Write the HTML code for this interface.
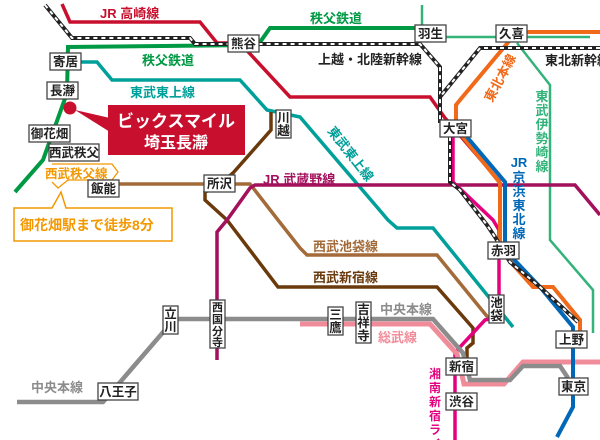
<!DOCTYPE html>
<html><head><meta charset="utf-8"><style>
html,body{margin:0;padding:0;background:#fff;}
svg{display:block;font-family:"Liberation Sans","Noto Sans CJK JP",sans-serif;}
.st{fill:#fff;stroke:#444;stroke-width:1.3;}
.sl{font-size:12.5px;font-weight:bold;fill:#222;}
</style></head><body>
<svg width="600" height="440" viewBox="0 0 600 440" xmlns="http://www.w3.org/2000/svg">
<g fill="none" stroke-linejoin="miter">
<!-- Tobu Isesaki light green -->
<polyline points="422,5 422,37 590,37" stroke="#33b37a" stroke-width="2.5"/>
<polyline points="517,43 550,85 550,240 593,290 593,333" stroke="#33b37a" stroke-width="2.5"/>
<!-- Chichibu green -->
<polyline points="15,192 43,160 67,93 68,47 258,45 270,28 422,28" stroke="#009944" stroke-width="4"/>
<!-- Takasaki red -->
<polyline points="62,4 70,22 200,22 217,43 240,43 290,97 430,97 445,118 500,182" stroke="#c8102e" stroke-width="3.5"/>
<!-- Tojo teal -->
<polyline points="80,62 97,62 112,80 240,80 267,110 300,117 388,220 397,228 433,228 513,327" stroke="#00a09a" stroke-width="3.5"/>
<!-- Seibu Ikebukuro light brown -->
<polyline points="117,184 250,184 278,220 300,248 307,255 437,255 490,320" stroke="#a36b3a" stroke-width="3.5"/>
<!-- Seibu Shinjuku dark brown -->
<polyline points="271,112 271,130 233,173 218,186 205,192 205,200 227,220 278,287 437,287 473,328 473,343 467,348 467,360" stroke="#6a3a0c" stroke-width="3.5"/>
<!-- Musashino purple -->
<polyline points="217,360 217,232 227,220 250,188 255,185 575,185 600,215" stroke="#a3115c" stroke-width="3.5"/>
<!-- Saikyo/Shonan magenta -->
<polyline points="453,137 453,182 493,220 499,230 499,317 485,320 460,347 455,353 455,440" stroke="#e4007f" stroke-width="3.5"/>
<!-- Sobu pink -->
<polyline points="300,324 430,324 457,354 464,384 504,384 523,362 600,362" stroke="#f08c9a" stroke-width="5"/>
<!-- Chuo grey -->
<polyline points="17,402 103,402 165,330 178,319 433,319 463,353 470,380 510,380 523,366 560,366 568,378" stroke="#8c8c8c" stroke-width="4.5"/>
<!-- Orange Tohoku main -->
<polyline points="600,32 527,32" stroke="#f06a1a" stroke-width="4"/>
<polyline points="510,40 460,100 456,105 456,125 463,137 500,183 500,250 533,287 553,287 580,320 580,333" stroke="#f06a1a" stroke-width="4"/>
<!-- Blue Keihin -->
<polyline points="467,137 505,182 505,250 540,287 573,327 573,407 557,437" stroke="#0068b7" stroke-width="4"/>
<!-- Shinkansen -->
<g stroke-width="4">
<polyline points="45,5 72,38 190,38 195,44 420,44 440,67 440,123" stroke="#222"/>
<polyline points="45,5 72,38 190,38 195,44 420,44 440,67 440,123" stroke="#fff" stroke-dasharray="4 4" stroke-width="2"/>
<polyline points="600,48 480,48 440,97" stroke="#222"/>
<polyline points="600,48 480,48 440,97" stroke="#fff" stroke-dasharray="4 4" stroke-width="2"/>
<polyline points="450,137 450,182 460,190 487,225 495,237 510,262 540,287 578,322" stroke="#222"/>
<polyline points="450,137 450,182 460,190 487,225 495,237 510,262 540,287 578,322" stroke="#fff" stroke-dasharray="4 4" stroke-width="2"/>
</g>
</g>

<!-- Callouts -->
<circle cx="70" cy="108" r="6.5" fill="#c8102e"/>
<polygon points="75,110 110,118 110,132" fill="#c8102e"/>
<rect x="108" y="105" width="137" height="50" fill="#c8102e"/>
<text x="176" y="127" font-size="17" font-weight="bold" fill="#fff" text-anchor="middle">ビックスマイル</text>
<text x="176" y="148" font-size="16" font-weight="bold" fill="#fff" text-anchor="middle">埼玉長瀞</text>

<polyline points="52,164 112,164 118,172 112,180 68,180 58,188 52,182" fill="none" stroke="#f39800" stroke-width="1.3"/>
<text x="45" y="178" font-size="12.5" font-weight="bold" fill="#f39800">西武秩父線</text>
<polygon points="14,208 52,208 61,192 66,208 172,208 172,241 14,241" fill="#fff" stroke="#f39800" stroke-width="1.5"/>
<text x="20" y="230" font-size="14" font-weight="bold" fill="#f39800">御花畑駅まで徒歩8分</text>

<!-- Line labels -->
<text x="100" y="18" font-size="13" font-weight="bold" fill="#c8102e">JR 高崎線</text>
<text x="142" y="65" font-size="13" font-weight="bold" fill="#009944">秩父鉄道</text>
<text x="310" y="23" font-size="13" font-weight="bold" fill="#009944">秩父鉄道</text>
<text x="130" y="97" font-size="13" font-weight="bold" fill="#00a09a">東武東上線</text>
<text x="318" y="64" font-size="13" font-weight="bold" fill="#222">上越・北陸新幹線</text>
<text x="545" y="65" font-size="13" font-weight="bold" fill="#222">東北新幹線</text>
<text x="263" y="184" font-size="13" font-weight="bold" fill="#a3115c">JR 武蔵野線</text>
<text x="313" y="251" font-size="13" font-weight="bold" fill="#a36b3a">西武池袋線</text>
<text x="313" y="282" font-size="13" font-weight="bold" fill="#6a3a0c">西武新宿線</text>
<text x="380" y="314" font-size="13" font-weight="bold" fill="#8c8c8c">中央本線</text>
<text x="31" y="392" font-size="13" font-weight="bold" fill="#8c8c8c">中央本線</text>
<text x="378" y="342" font-size="13" font-weight="bold" fill="#f08c9a">総武線</text>
<text transform="translate(492,103) rotate(-62)" font-size="13" font-weight="bold" fill="#f06a1a">東北本線</text>
<text transform="translate(327,131) rotate(52)" font-size="13" font-weight="bold" fill="#00a09a">東武東上線</text>
<g font-size="13" font-weight="bold" fill="#33b37a" text-anchor="middle">
<text x="542" y="101">東</text><text x="542" y="115">武</text><text x="542" y="129">伊</text><text x="542" y="143">勢</text><text x="542" y="157">崎</text><text x="542" y="171">線</text></g>
<g font-size="13" font-weight="bold" fill="#0068b7" text-anchor="middle">
<text x="519" y="167">JR</text><text x="519" y="182">京</text><text x="519" y="196">浜</text><text x="519" y="210">東</text><text x="519" y="224">北</text><text x="519" y="238">線</text></g>
<g font-size="12" font-weight="bold" fill="#e4007f" text-anchor="middle">
<text x="435" y="378">湘</text><text x="435" y="392">南</text><text x="435" y="406">新</text><text x="435" y="420">宿</text><text x="435" y="434">ラ</text><text x="435" y="448">イ</text></g>

<!-- Stations horizontal -->
<g>
<rect class="st" x="228" y="35" width="31" height="17"/><text class="sl" x="243.5" y="48" text-anchor="middle">熊谷</text>
<rect class="st" x="415" y="25" width="31" height="17"/><text class="sl" x="430.5" y="38" text-anchor="middle">羽生</text>
<rect class="st" x="496" y="25" width="31" height="17"/><text class="sl" x="511.5" y="38" text-anchor="middle">久喜</text>
<rect class="st" x="50" y="53" width="31" height="17"/><text class="sl" x="65.5" y="66" text-anchor="middle">寄居</text>
<rect class="st" x="47" y="82" width="31" height="17"/><text class="sl" x="62.5" y="95" text-anchor="middle">長瀞</text>
<rect class="st" x="29" y="125" width="41" height="17"/><text class="sl" x="49.5" y="138" text-anchor="middle">御花畑</text>
<rect class="st" x="49" y="144" width="50" height="17"/><text class="sl" x="74" y="157" text-anchor="middle">西武秩父</text>
<rect class="st" x="88" y="180" width="31" height="17"/><text class="sl" x="103.5" y="193" text-anchor="middle">飯能</text>
<rect class="st" x="204" y="175" width="31" height="17"/><text class="sl" x="219.5" y="188" text-anchor="middle">所沢</text>
<rect class="st" x="440" y="120" width="31" height="17"/><text class="sl" x="455.5" y="133" text-anchor="middle">大宮</text>
<rect class="st" x="488" y="242" width="31" height="17"/><text class="sl" x="503.5" y="255" text-anchor="middle">赤羽</text>
<rect class="st" x="556" y="331" width="31" height="17"/><text class="sl" x="571.5" y="344" text-anchor="middle">上野</text>
<rect class="st" x="559" y="378" width="29" height="17"/><text class="sl" x="573.5" y="391" text-anchor="middle">東京</text>
<rect class="st" x="446" y="358" width="31" height="17"/><text class="sl" x="461.5" y="371" text-anchor="middle">新宿</text>
<rect class="st" x="446" y="393" width="31" height="17"/><text class="sl" x="461.5" y="406" text-anchor="middle">渋谷</text>
<rect class="st" x="98" y="383" width="40" height="17"/><text class="sl" x="118" y="396" text-anchor="middle">八王子</text>
</g>
<!-- Stations vertical -->
<g>
<rect class="st" x="276" y="110" width="15" height="28"/><text class="sl" x="283.5" y="122" text-anchor="middle">川</text><text class="sl" x="283.5" y="135" text-anchor="middle">越</text>
<rect class="st" x="489" y="295" width="15" height="28"/><text class="sl" x="496.5" y="307" text-anchor="middle">池</text><text class="sl" x="496.5" y="320" text-anchor="middle">袋</text>
<rect class="st" x="163" y="306" width="15" height="28"/><text class="sl" x="170.5" y="318" text-anchor="middle">立</text><text class="sl" x="170.5" y="331" text-anchor="middle">川</text>
<rect class="st" x="328" y="307" width="15" height="28"/><text class="sl" x="335.5" y="319" text-anchor="middle">三</text><text class="sl" x="335.5" y="332" text-anchor="middle">鷹</text>
<rect class="st" x="356" y="302" width="15" height="41"/><text class="sl" x="363.5" y="314" text-anchor="middle">吉</text><text class="sl" x="363.5" y="327" text-anchor="middle">祥</text><text class="sl" x="363.5" y="340" text-anchor="middle">寺</text>
<rect class="st" x="210" y="300" width="15" height="48"/><g font-size="11" font-weight="bold" fill="#222" text-anchor="middle"><text x="217.5" y="311">西</text><text x="217.5" y="323">国</text><text x="217.5" y="335">分</text><text x="217.5" y="346">寺</text></g>
</g>
</svg>
</body></html>
